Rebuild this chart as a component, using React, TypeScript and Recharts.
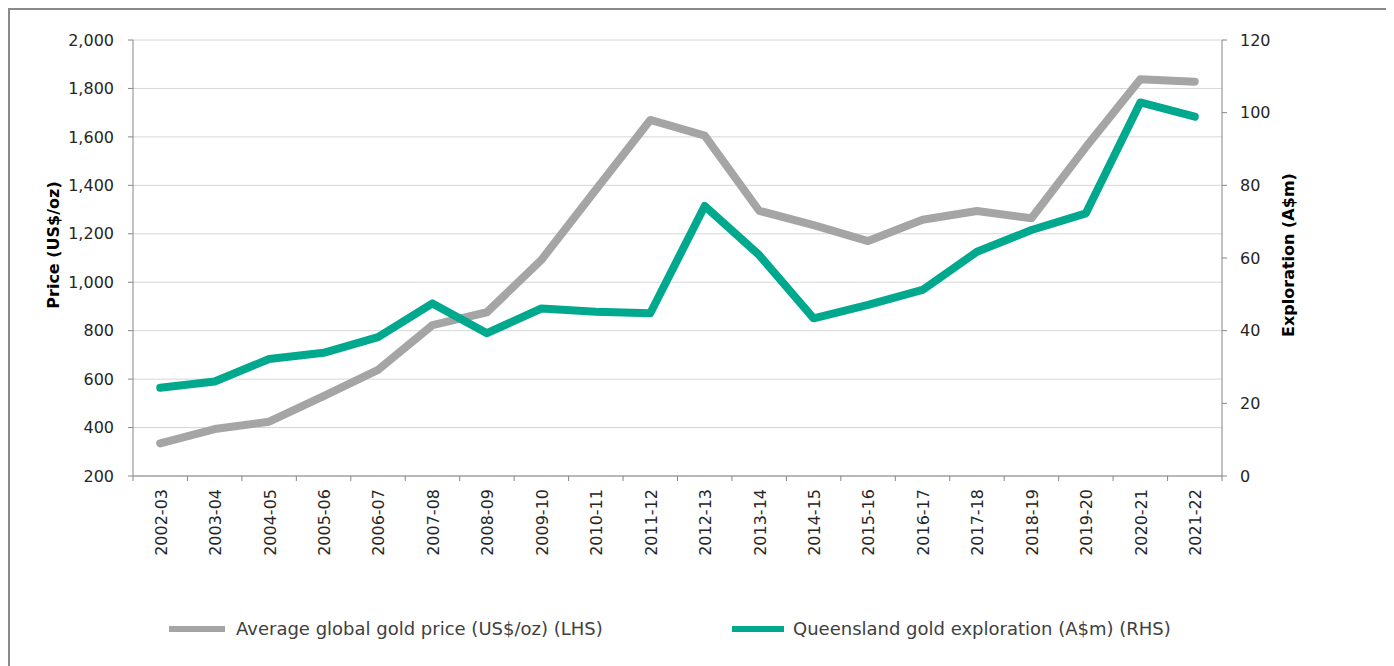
import React from 'react';
import { LineChart, Line, XAxis, YAxis, CartesianGrid, Legend } from 'recharts';

const categories = [
  '2002-03', '2003-04', '2004-05', '2005-06', '2006-07', '2007-08', '2008-09', '2009-10', '2010-11', '2011-12',
  '2012-13', '2013-14', '2014-15', '2015-16', '2016-17', '2017-18', '2018-19', '2019-20', '2020-21', '2021-22',
];
const goldPrice = [335, 394, 424, 530, 638, 823, 876, 1092, 1382, 1670, 1605, 1295, 1236, 1170, 1258, 1294, 1264, 1558, 1838, 1828];
const exploration = [24.3, 26, 32.2, 33.9, 38.2, 47.5, 39.3, 46.1, 45.2, 44.8, 74.3, 60.8, 43.4, 47.1, 51.2, 61.7, 67.7, 72.3, 102.8, 98.9];
const leftTicks = [200, 400, 600, 800, 1000, 1200, 1400, 1600, 1800, 2000];
const rightTicks = [0, 20, 40, 60, 80, 100, 120];

const data = categories.map((c, i) => ({ cat: c, price: goldPrice[i], expl: exploration[i] }));

const CHART_W = 1380;
const CHART_H = 660;
const LEFT_W = 123;
const RIGHT_W = 168;
const PLOT_W = CHART_W - LEFT_W - RIGHT_W;
const HALF_BAND = PLOT_W / categories.length / 2;
const X_TICK_SIZE = 5;
const X_TICK_MARGIN = 8;

const GRAY = '#a5a5a5';
const GREEN = '#00a88e';
const AXIS = '#868686';
const FONT = '"DejaVu Sans", sans-serif';

const XTick = (props: any) => {
  const { x, y, payload, index } = props;
  const axisY = y - X_TICK_SIZE - X_TICK_MARGIN;
  const last = index === categories.length - 1;
  return (
    <g>
      <line x1={x - HALF_BAND} x2={x - HALF_BAND} y1={axisY} y2={axisY + X_TICK_SIZE} stroke={AXIS} />
      {last && <line x1={x + HALF_BAND} x2={x + HALF_BAND} y1={axisY} y2={axisY + X_TICK_SIZE} stroke={AXIS} />}
      <text
        x={x}
        y={y}
        transform={`rotate(-90, ${x}, ${y})`}
        textAnchor="end"
        dy="0.4em"
        fontSize={16}
        fill="#262626"
        fontFamily={FONT}
      >
        {payload.value}
      </text>
    </g>
  );
};

const LegendContent = () => (
  <div style={{ position: 'relative', height: 40, width: CHART_W, fontFamily: FONT, fontSize: 18, color: '#404040' }}>
    <div style={{ position: 'absolute', left: 159, top: 17, width: 56, height: 6, background: GRAY }} />
    <div style={{ position: 'absolute', left: 226, top: 8, lineHeight: '24px', whiteSpace: 'nowrap' }}>
      Average global gold price (US$/oz) (LHS)
    </div>
    <div style={{ position: 'absolute', left: 722, top: 17, width: 52, height: 6, background: GREEN }} />
    <div style={{ position: 'absolute', left: 783, top: 8, lineHeight: '24px', whiteSpace: 'nowrap' }}>
      Queensland gold exploration (A$m) (RHS)
    </div>
  </div>
);

export default function App() {
  return (
    <div
      style={{
        width: 1384,
        height: 664,
        border: '2px solid #8a8a8a',
        boxSizing: 'border-box',
        fontFamily: FONT,
        background: '#fff',
      }}
    >
      <LineChart width={CHART_W} height={CHART_H} data={data} margin={{ top: 30, right: 0, left: 0, bottom: 21 }}>
        <CartesianGrid yAxisId="left" vertical={false} stroke="#d6d6d6" />
        <XAxis
          dataKey="cat"
          scale="band"
          interval={0}
          height={133}
          tickLine={false}
          tickSize={X_TICK_SIZE}
          tickMargin={X_TICK_MARGIN}
          axisLine={{ stroke: AXIS }}
          tick={<XTick />}
        />
        <YAxis
          yAxisId="left"
          width={LEFT_W}
          domain={[200, 2000]}
          ticks={leftTicks}
          interval={0}
          tickFormatter={(v: number) => v.toLocaleString('en-US')}
          tickSize={5}
          tickMargin={14}
          axisLine={{ stroke: AXIS }}
          tickLine={{ stroke: AXIS }}
          tick={{ fontSize: 16, fill: '#262626', fontFamily: FONT }}
          label={{
            content: () => (
              <text
                x={43}
                y={235}
                transform="rotate(-90, 43, 235)"
                textAnchor="middle"
                dominantBaseline="central"
                fontWeight="bold"
                fontSize={16}
                fill="#000"
                fontFamily={FONT}
              >
                Price (US$/oz)
              </text>
            ),
          }}
        />
        <YAxis
          yAxisId="right"
          orientation="right"
          width={RIGHT_W}
          domain={[0, 120]}
          ticks={rightTicks}
          interval={0}
          tickSize={5}
          tickMargin={13}
          axisLine={{ stroke: AXIS }}
          tickLine={{ stroke: AXIS }}
          tick={{ fontSize: 16, fill: '#262626', fontFamily: FONT }}
          label={{
            content: () => (
              <text
                x={1278}
                y={245}
                transform="rotate(-90, 1278, 245)"
                textAnchor="middle"
                dominantBaseline="central"
                fontWeight="bold"
                fontSize={16}
                fill="#000"
                fontFamily={FONT}
              >
                Exploration (A$m)
              </text>
            ),
          }}
        />
        <Legend verticalAlign="bottom" content={<LegendContent />} />
        <Line
          yAxisId="left"
          type="linear"
          dataKey="price"
          name="Average global gold price (US$/oz) (LHS)"
          stroke={GRAY}
          strokeWidth={8}
          strokeLinecap="round"
          strokeLinejoin="round"
          dot={false}
          activeDot={false}
          isAnimationActive={false}
        />
        <Line
          yAxisId="right"
          type="linear"
          dataKey="expl"
          name="Queensland gold exploration (A$m) (RHS)"
          stroke={GREEN}
          strokeWidth={8}
          strokeLinecap="round"
          strokeLinejoin="round"
          dot={false}
          activeDot={false}
          isAnimationActive={false}
        />
      </LineChart>
    </div>
  );
}
